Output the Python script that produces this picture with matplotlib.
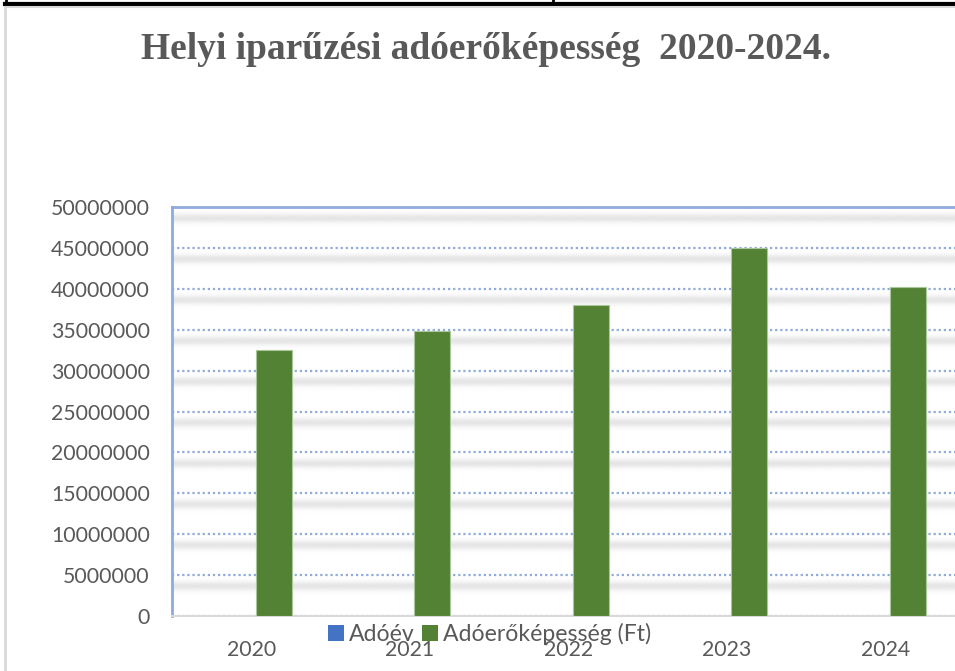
import numpy as np
import matplotlib
matplotlib.use("Agg")
import matplotlib.pyplot as plt
from matplotlib.patches import Patch
from matplotlib.lines import Line2D

# ---- data ----
years = ["2020", "2021", "2022", "2023", "2024"]
adoev = [2020, 2021, 2022, 2023, 2024]
adoero = [32500000, 34850000, 38000000, 44950000, 40200000]
yticks = list(range(0, 50000001, 5000000))
title = "Helyi iparűzési adóerőképesség  2020-2024."
series_names = ["Adóév", "Adóerőképesség (Ft)"]

W, H = 955, 671
fig = plt.figure(figsize=(W / 100, H / 100), dpi=100)
fig.patch.set_facecolor("white")

ax_l, ax_r, ax_t, ax_b = 172, 964.5, 207, 616
ax = fig.add_axes([ax_l / W, (H - ax_b) / H, (ax_r - ax_l) / W, (ax_b - ax_t) / H])
ax.set_facecolor("white")

x = np.arange(len(years))
bw = 0.227
off = 0.142
ax.bar(x + off - bw, adoev, width=bw, color="#4472C4", zorder=3)
ax.bar(x + off, adoero, width=bw, color="#548235", edgecolor="#a9c79a",
       linewidth=0.8, zorder=3)

ax.set_xlim(-0.5, len(years) - 0.5)
ax.set_ylim(0, 50000000)

# shadow bands under gridlines
ys = np.linspace(0, 50000000, 1200)
ppx = 50000000 / (ax_b - ax_t)
inten = np.zeros_like(ys)
for v in yticks[1:]:
    c = v - 11 * ppx
    inten += np.exp(-0.5 * ((ys - c) / (3.2 * ppx)) ** 2)
inten = np.clip(inten, 0, 1)
img = np.zeros((len(ys), 1, 4))
img[:, 0, :3] = 0.80
img[:, 0, 3] = inten * 0.5
ax.imshow(img, extent=(-0.5, len(years) - 0.5, 0, 50000000), origin="lower",
          aspect="auto", zorder=0, interpolation="bilinear")

ax.set_yticks(yticks)
ax.set_yticklabels([str(v) for v in yticks])
ax.set_xticks(x)
ax.set_xticklabels(years)
ax.yaxis.grid(True, linestyle=(0, (1, 1.3)), color="#8faadc", linewidth=1.6, zorder=1)
ax.set_axisbelow(True)

for lab in ax.get_yticklabels():
    lab.set_fontfamily("Lato")
    lab.set_fontsize(15.3)
    lab.set_color("#595959")
for lab in ax.get_xticklabels():
    lab.set_fontfamily("Lato")
    lab.set_fontsize(15.3)
    lab.set_color("#595959")
ax.tick_params(axis="y", length=0, pad=16)
ax.tick_params(axis="x", length=0, pad=17)

ax.spines["left"].set_color("#8faadc")
ax.spines["left"].set_linewidth(2)
ax.spines["top"].set_color("#8faadc")
ax.spines["top"].set_linewidth(2)
ax.spines["bottom"].set_color("#d9d9d9")
ax.spines["bottom"].set_linewidth(1.5)
ax.spines["right"].set_visible(False)

# title
fig.text(486 / W, 1 - 59 / H, title, ha="center", va="baseline",
         fontfamily="Liberation Serif", fontweight="bold", fontsize=27, color="#595959")

# legend
handles = [Patch(facecolor="#4472C4"), Patch(facecolor="#548235")]
leg = fig.legend(handles, series_names, loc="center", bbox_to_anchor=(489.5 / W, 1 - 634 / H),
                 ncol=2, frameon=False, handlelength=0.7, handleheight=0.7,
                 handletextpad=0.2, columnspacing=0.3,
                 prop={"family": "Lato", "size": 16.6})
for t in leg.get_texts():
    t.set_color("#595959")

# page borders
fig.add_artist(Line2D([5 / W, 1], [1 - 4 / H, 1 - 4 / H], color="black", linewidth=3))
fig.add_artist(Line2D([6 / W, 6 / W], [1, 1 - 4 / H], color="black", linewidth=2))
fig.add_artist(Line2D([553 / W, 553 / W], [1, 1 - 4 / H], color="black", linewidth=2))
fig.add_artist(Line2D([5 / W, 1], [1 - 7 / H, 1 - 7 / H], color="#d9d9d9", linewidth=1.5))
fig.add_artist(Line2D([5 / W, 5 / W], [0, 1 - 7 / H], color="#d9d9d9", linewidth=2))

fig.savefig("out.png", dpi=100)
